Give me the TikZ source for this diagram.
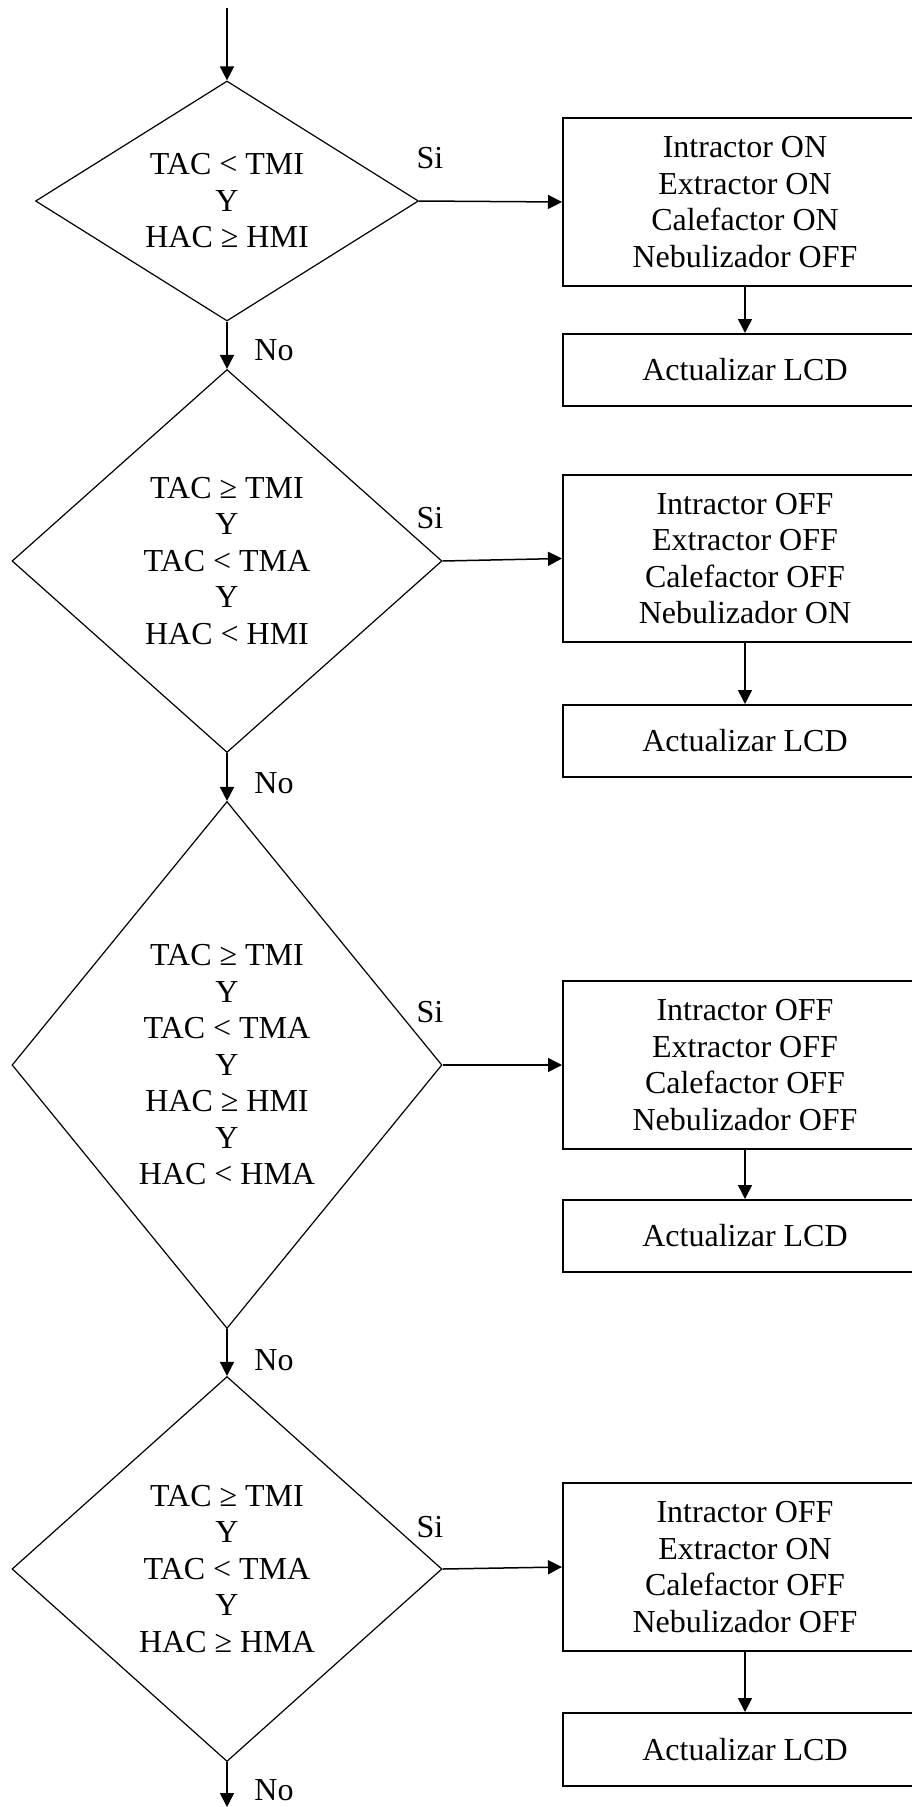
\documentclass[tikz,border=0pt]{standalone}
\usepackage{fontspec}
\setmainfont{Liberation Serif}
\usetikzlibrary{shapes.geometric, arrows.meta, positioning}

\begin{document}
\begin{tikzpicture}[x=1pt, y=-1pt,
  texto/.style={font=\fontsize{32}{36.5}\selectfont, align=center},
  decision/.style={diamond, draw, line width=1.2pt, inner sep=0pt, texto},
  accion/.style={rectangle, draw, line width=2pt, minimum width=364pt, inner sep=0pt, texto},
  flecha/.style={line width=1.5pt, -{Triangle[length=14pt, width=14pt]}}]
  \useasboundingbox (0,0) rectangle (912,1807);

  % Entrada
  \coordinate (inicio) at (227,8);

  % Condicion 1
  \node[decision, minimum width=383pt, minimum height=240pt, aspect=1.6] (c1) at (227,201)
    {TAC < TMI\\ Y\\ HAC ≥ HMI};
  \node[accion, minimum height=168pt] (a1) at (745,202)
    {Intractor ON\\ Extractor ON\\ Calefactor ON\\ Nebulizador OFF};
  \node[accion, minimum height=72pt] (l1) at (745,370) {Actualizar LCD};

  % Condicion 2
  \node[decision, minimum width=430pt, minimum height=383pt, aspect=1.12] (c2) at (227,561)
    {TAC ≥ TMI\\ Y\\ TAC < TMA\\ Y\\ HAC < HMI};
  \node[accion, minimum height=167pt] (a2) at (745,558.5)
    {Intractor OFF\\ Extractor OFF\\ Calefactor OFF\\ Nebulizador ON};
  \node[accion, minimum height=72pt] (l2) at (745,741) {Actualizar LCD};

  % Condicion 3
  \node[decision, minimum width=430pt, minimum height=527pt, aspect=0.82] (c3) at (227,1065)
    {TAC ≥ TMI\\ Y\\ TAC < TMA\\ Y\\ HAC ≥ HMI\\ Y\\ HAC < HMA};
  \node[accion, minimum height=168pt] (a3) at (745,1065)
    {Intractor OFF\\ Extractor OFF\\ Calefactor OFF\\ Nebulizador OFF};
  \node[accion, minimum height=72pt] (l3) at (745,1236) {Actualizar LCD};

  % Condicion 4
  \node[decision, minimum width=430pt, minimum height=385pt, aspect=1.12] (c4) at (227,1569)
    {TAC ≥ TMI\\ Y\\ TAC < TMA\\ Y\\ HAC ≥ HMA};
  \node[accion, minimum height=168pt] (a4) at (745,1567)
    {Intractor OFF\\ Extractor ON\\ Calefactor OFF\\ Nebulizador OFF};
  \node[accion, minimum height=73pt] (l4) at (745,1749.5) {Actualizar LCD};

  \coordinate (fin) at (227,1807);

  % Flujo principal (rama No)
  \draw[flecha] (inicio) -- (c1.north);
  \draw[flecha] (c1.south) -- (c2.north);
  \draw[flecha] (c2.south) -- (c3.north);
  \draw[flecha] (c3.south) -- (c4.north);
  \draw[flecha] (c4.south) -- (fin);

  % Ramas Si
  \draw[flecha] (c1.east) -- (a1.west);
  \draw[flecha] (c2.east) -- (a2.west);
  \draw[flecha] (c3.east) -- (a3.west);
  \draw[flecha] (c4.east) -- (a4.west);
  \draw[flecha] (a1.south) -- (l1.north);
  \draw[flecha] (a2.south) -- (l2.north);
  \draw[flecha] (a3.south) -- (l3.north);
  \draw[flecha] (a4.south) -- (l4.north);

  % Etiquetas
  \node[texto] (si1) at (430,158) {Si};
  \node[texto] (si2) at (430,518) {Si};
  \node[texto] (si3) at (430,1012) {Si};
  \node[texto] (si4) at (430,1527) {Si};
  \node[texto] (no1) at (274,350) {No};
  \node[texto] (no2) at (274,783) {No};
  \node[texto] (no3) at (274,1360) {No};
  \node[texto] (no4) at (274,1790) {No};
\end{tikzpicture}
\end{document}
